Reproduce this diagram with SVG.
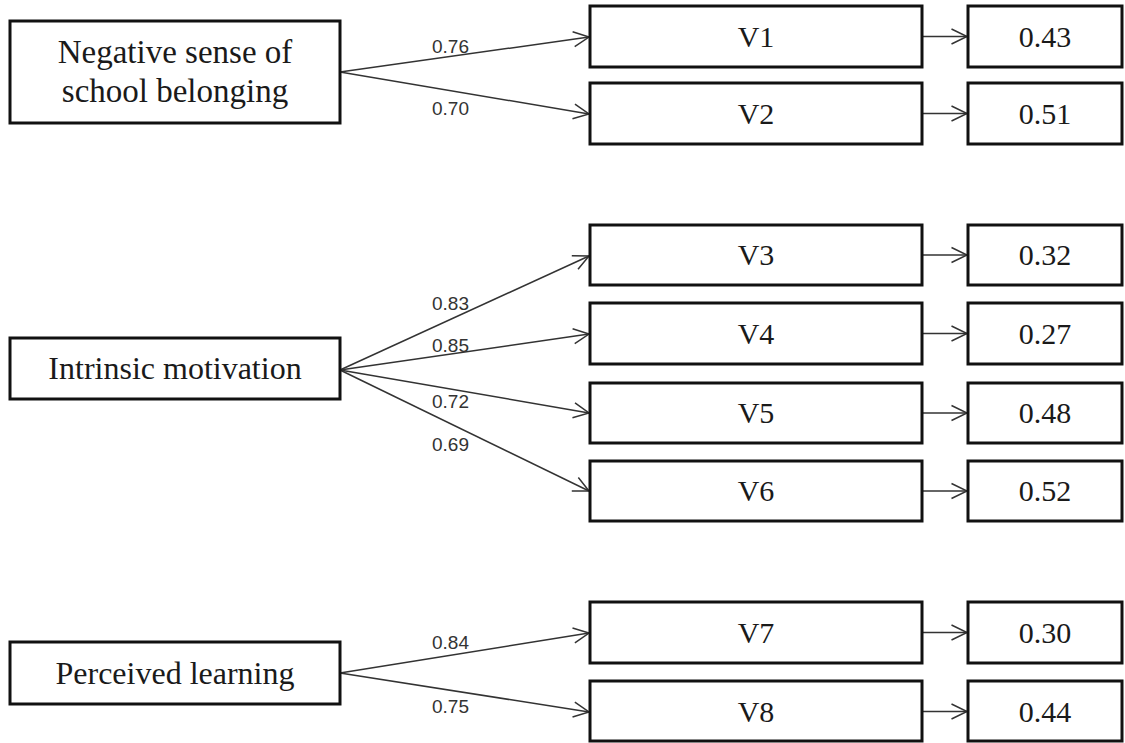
<svg xmlns="http://www.w3.org/2000/svg" width="1125" height="743" viewBox="0 0 1125 743">
<defs>
<marker id="arr" viewBox="0 0 18 18" refX="16.5" refY="9" markerWidth="18" markerHeight="18" markerUnits="userSpaceOnUse" orient="auto">
<path d="M1,1.5 L16.5,9 L1,16.5" fill="none" stroke="#333" stroke-width="1.5"/>
</marker>
<style>
.box{fill:#fff;stroke:#111;stroke-width:3}
.big{font-family:"Liberation Serif","Times New Roman",serif;font-size:32px;fill:#1a1a1a;text-anchor:middle}
.mid{font-family:"Liberation Serif","Times New Roman",serif;font-size:30px;fill:#1a1a1a;text-anchor:middle}
.lbl{font-family:"Liberation Sans",Arial,sans-serif;font-size:19px;fill:#333}
.ln{fill:none;stroke:#333;stroke-width:1.5;marker-end:url(#arr)}
</style>
</defs>
<rect width="1125" height="743" fill="#fff"/>
<g id="connectors">
<line class="ln" x1="340" y1="72" x2="589" y2="37"/>
<line class="ln" x1="340" y1="72" x2="589" y2="114"/>
<line class="ln" x1="340" y1="370" x2="589" y2="256"/>
<line class="ln" x1="340" y1="370" x2="589" y2="334"/>
<line class="ln" x1="340" y1="370" x2="589" y2="413"/>
<line class="ln" x1="340" y1="370" x2="589" y2="491"/>
<line class="ln" x1="340" y1="673" x2="589" y2="633"/>
<line class="ln" x1="340" y1="673" x2="589" y2="712"/>
<line class="ln" x1="922" y1="36.5" x2="967" y2="36.5"/>
<line class="ln" x1="922" y1="113.5" x2="967" y2="113.5"/>
<line class="ln" x1="922" y1="255" x2="967" y2="255"/>
<line class="ln" x1="922" y1="333.5" x2="967" y2="333.5"/>
<line class="ln" x1="922" y1="413" x2="967" y2="413"/>
<line class="ln" x1="922" y1="491" x2="967" y2="491"/>
<line class="ln" x1="922" y1="632.5" x2="967" y2="632.5"/>
<line class="ln" x1="922" y1="711.5" x2="967" y2="711.5"/>
<text class="lbl" x="432" y="53">0.76</text>
<text class="lbl" x="432" y="115">0.70</text>
<text class="lbl" x="432" y="310">0.83</text>
<text class="lbl" x="432" y="352">0.85</text>
<text class="lbl" x="432" y="408">0.72</text>
<text class="lbl" x="432" y="451">0.69</text>
<text class="lbl" x="432" y="649">0.84</text>
<text class="lbl" x="432" y="713">0.75</text>
</g>
<g id="negative">
<rect class="box" x="10" y="21" width="330" height="102"/>
<text class="big" x="175" y="63" style="font-size:33px">Negative sense of</text>
<text class="big" x="175" y="102" style="font-size:33px">school belonging</text>
</g>
<g id="intrinsic">
<rect class="box" x="10" y="338" width="330" height="61"/>
<text class="big" x="175" y="379">Intrinsic motivation</text>
</g>
<g id="perceived">
<rect class="box" x="10" y="642" width="330" height="62"/>
<text class="big" x="175" y="684">Perceived learning</text>
</g>
<g id="v1"><rect class="box" x="590" y="6" width="332" height="61"/><text class="mid" x="756" y="47">V1</text></g>
<g id="v2"><rect class="box" x="590" y="83" width="332" height="61"/><text class="mid" x="756" y="124">V2</text></g>
<g id="v3"><rect class="box" x="590" y="225" width="332" height="60"/><text class="mid" x="756" y="265">V3</text></g>
<g id="v4"><rect class="box" x="590" y="303" width="332" height="61"/><text class="mid" x="756" y="344">V4</text></g>
<g id="v5"><rect class="box" x="590" y="383" width="332" height="60"/><text class="mid" x="756" y="423">V5</text></g>
<g id="v6"><rect class="box" x="590" y="461" width="332" height="60"/><text class="mid" x="756" y="501">V6</text></g>
<g id="v7"><rect class="box" x="590" y="602" width="332" height="61"/><text class="mid" x="756" y="643">V7</text></g>
<g id="v8"><rect class="box" x="590" y="681" width="332" height="60"/><text class="mid" x="756" y="722">V8</text></g>
<g id="e1"><rect class="box" x="968" y="6" width="154" height="61"/><text class="mid" x="1045" y="47">0.43</text></g>
<g id="e2"><rect class="box" x="968" y="83" width="154" height="61"/><text class="mid" x="1045" y="124">0.51</text></g>
<g id="e3"><rect class="box" x="968" y="225" width="154" height="60"/><text class="mid" x="1045" y="265">0.32</text></g>
<g id="e4"><rect class="box" x="968" y="303" width="154" height="61"/><text class="mid" x="1045" y="344">0.27</text></g>
<g id="e5"><rect class="box" x="968" y="383" width="154" height="60"/><text class="mid" x="1045" y="423">0.48</text></g>
<g id="e6"><rect class="box" x="968" y="461" width="154" height="60"/><text class="mid" x="1045" y="501">0.52</text></g>
<g id="e7"><rect class="box" x="968" y="602" width="154" height="61"/><text class="mid" x="1045" y="643">0.30</text></g>
<g id="e8"><rect class="box" x="968" y="681" width="154" height="60"/><text class="mid" x="1045" y="722">0.44</text></g>
</svg>
